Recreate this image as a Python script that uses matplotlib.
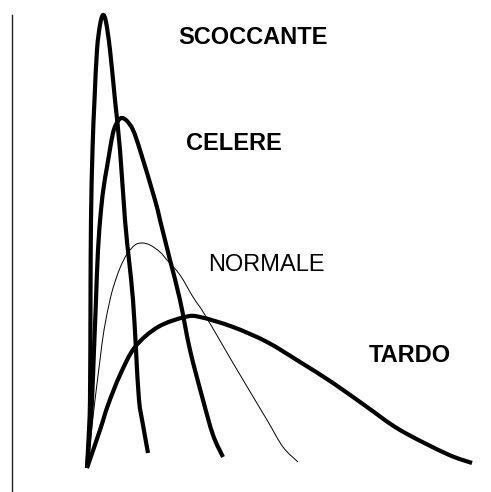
import matplotlib
matplotlib.use("Agg")
import matplotlib.pyplot as plt
from matplotlib.path import Path
from matplotlib.patches import PathPatch

# Curve points (x, pixel row from the top of a 491x492 canvas)
H = 492
scoccante_x = [87, 88.5, 90, 90.5, 91, 92.5, 94.5, 97, 100, 103, 106, 110, 115, 120, 125, 129, 133, 136, 139, 143, 148]
scoccante_py = [468, 440, 400, 300, 220, 150, 100, 50, 25, 15, 22, 50, 100, 150, 220, 260, 300, 350, 400, 425, 453]

celere_x = [87, 90, 92, 94, 96, 98, 101, 104, 107, 113, 118, 122, 127, 133, 140, 155, 160, 170, 180, 190, 203, 213, 223]
celere_py = [468, 430, 400, 350, 300, 250, 210, 185, 167, 133, 121, 118, 121, 130, 150, 200, 220, 260, 300, 350, 400, 435, 457]

normale_x = [87, 91, 95, 100, 104, 110, 114, 120, 127, 135, 142, 150, 160, 167, 180, 193, 205, 233, 267, 283, 298]
normale_py = [468, 435, 400, 360, 330, 300, 285, 268, 254, 245, 243, 245, 252, 260, 275, 297, 315, 363, 420, 447, 462]

tardo_x = [87, 100, 108, 120, 135, 158, 185, 200, 233, 267, 300, 333, 367, 400, 447, 472]
tardo_py = [468, 430, 405, 375, 347, 327, 317, 317, 327, 342, 362, 383, 407, 430, 454, 463]

labels = ["SCOCCANTE", "CELERE", "NORMALE", "TARDO"]

fig = plt.figure(figsize=(4.91, 4.92), dpi=100)
ax = fig.add_axes([0, 0, 1, 1])
ax.set_xlim(0, 491)
ax.set_ylim(0, H)
ax.axis("off")


def smooth_path(xs, pys):
    """Cubic Bezier path (Catmull-Rom tangents) through the read points."""
    pts = [(x, H - y) for x, y in zip(xs, pys)]
    n = len(pts)
    verts = [pts[0]]
    codes = [Path.MOVETO]
    for i in range(n - 1):
        p0 = pts[i - 1] if i > 0 else pts[i]
        p1 = pts[i]
        p2 = pts[i + 1]
        p3 = pts[i + 2] if i + 2 < n else pts[i + 1]
        c1 = (p1[0] + (p2[0] - p0[0]) / 6.0, p1[1] + (p2[1] - p0[1]) / 6.0)
        c2 = (p2[0] - (p3[0] - p1[0]) / 6.0, p2[1] - (p3[1] - p1[1]) / 6.0)
        verts += [c1, c2, p2]
        codes += [Path.CURVE4, Path.CURVE4, Path.CURVE4]
    return Path(verts, codes)


ax.plot([12, 12], [H - 15, 0], color="#222222", lw=1.0)
for xs, ys, lw in [(scoccante_x, scoccante_py, 3.0),
                   (celere_x, celere_py, 3.0),
                   (normale_x, normale_py, 0.7),
                   (tardo_x, tardo_py, 3.0)]:
    ax.add_patch(PathPatch(smooth_path(xs, ys), fill=False, edgecolor="black",
                           lw=lw, joinstyle="round", capstyle="butt"))

font = "Liberation Sans"
ax.text(253, H - 38, labels[0], fontsize=17, fontweight="bold", family=font, ha="center", va="center")
ax.text(234, H - 144, labels[1], fontsize=17, fontweight="bold", family=font, ha="center", va="center")
ax.text(266, H - 265, labels[2], fontsize=17, family=font, ha="center", va="center")
ax.text(410, H - 355, labels[3], fontsize=17, fontweight="bold", family=font, ha="center", va="center")

fig.savefig("out.png", dpi=100)
